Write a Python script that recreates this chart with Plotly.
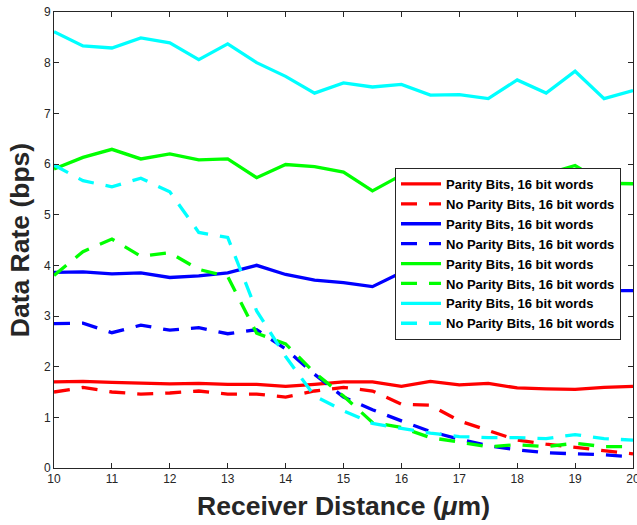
import plotly.graph_objects as go

distance = [10, 10.5, 11, 11.5, 12, 12.5, 13, 13.5, 14, 14.5, 15,
            15.5, 16, 16.5, 17, 17.5, 18, 18.5, 19, 19.5, 20]

red_parity = [1.70, 1.71, 1.69, 1.67, 1.66, 1.67, 1.65, 1.65, 1.61, 1.65, 1.70,
              1.70, 1.61, 1.71, 1.64, 1.67, 1.58, 1.56, 1.55, 1.59, 1.61]
red_noparity = [1.50, 1.59, 1.50, 1.46, 1.48, 1.52, 1.46, 1.46, 1.40, 1.52, 1.59,
                1.52, 1.26, 1.24, 0.93, 0.74, 0.55, 0.47, 0.41, 0.35, 0.28]
blue_parity = [3.86, 3.87, 3.83, 3.85, 3.76, 3.79, 3.85, 4.00, 3.82, 3.71, 3.66,
               3.58, 3.86, 3.72, 3.62, 3.58, 3.64, 3.55, 3.52, 3.50, 3.50]
blue_noparity = [2.85, 2.86, 2.67, 2.82, 2.72, 2.77, 2.65, 2.73, 2.35, 1.85, 1.40,
                 1.15, 0.93, 0.72, 0.57, 0.44, 0.36, 0.30, 0.28, 0.26, 0.22]
green_parity = [5.90, 6.13, 6.29, 6.10, 6.20, 6.08, 6.10, 5.73, 5.99, 5.95, 5.84,
                5.47, 5.78, 5.75, 5.80, 5.72, 5.85, 5.80, 5.97, 5.62, 5.61]
green_noparity = [3.80, 4.27, 4.52, 4.18, 4.25, 3.92, 3.78, 2.66, 2.45, 1.88, 1.42,
                  0.90, 0.80, 0.60, 0.51, 0.42, 0.46, 0.42, 0.49, 0.42, 0.42]
cyan_parity = [8.61, 8.33, 8.29, 8.49, 8.39, 8.06, 8.37, 8.00, 7.73, 7.40, 7.60,
               7.52, 7.57, 7.36, 7.37, 7.29, 7.66, 7.40, 7.83, 7.29, 7.45]
cyan_noparity = [5.98, 5.67, 5.55, 5.72, 5.45, 4.65, 4.55, 3.10, 2.20, 1.42, 1.13,
                 0.88, 0.78, 0.69, 0.62, 0.60, 0.60, 0.58, 0.66, 0.58, 0.55]

x_ticks = [10, 11, 12, 13, 14, 15, 16, 17, 18, 19, 20]
y_ticks = [0, 1, 2, 3, 4, 5, 6, 7, 8, 9]

label_parity = "Parity Bits, 16 bit words"
label_noparity = "No Parity Bits, 16 bit words"

series = [
    (red_parity, "#FF0000", "solid", label_parity),
    (red_noparity, "#FF0000", "dash", label_noparity),
    (blue_parity, "#0000FF", "solid", label_parity),
    (blue_noparity, "#0000FF", "dash", label_noparity),
    (green_parity, "#00FF00", "solid", label_parity),
    (green_noparity, "#00FF00", "dash", label_noparity),
    (cyan_parity, "#00FFFF", "solid", label_parity),
    (cyan_noparity, "#00FFFF", "dash", label_noparity),
]

fig = go.Figure()
for vals, color, style, name in series:
    fig.add_trace(go.Scatter(
        x=distance, y=vals, mode="lines", name=name,
        line=dict(color=color, width=3.3,
                  dash="16px,12px" if style == "dash" else "solid"),
    ))

axis_color = "#262626"
font_family = "Liberation Sans, Arial, sans-serif"
common = dict(
    showline=True, linecolor=axis_color, linewidth=1, mirror="ticks",
    ticks="inside", ticklen=5, tickcolor=axis_color, tickwidth=1,
    showgrid=False, zeroline=False, ticklabeloverflow="allow",
    tickfont=dict(family=font_family, size=12, color=axis_color),
)

fig.update_layout(
    width=637, height=525,
    margin=dict(l=54, r=4, t=12, b=57, autoexpand=False),
    paper_bgcolor="white", plot_bgcolor="white",
    showlegend=True,
    legend=dict(
        x=(395 - 54) / 579, y=(468 - 168) / 456, xanchor="left", yanchor="top",
        bgcolor="white", bordercolor=axis_color, borderwidth=1,
        font=dict(family=font_family, size=13, color="black", weight="bold"),
        itemwidth=40, tracegroupgap=0,
    ),
    xaxis=dict(range=[10, 20], tickvals=x_ticks, **common,
               title=dict(text="Receiver Distance (<i>μ</i>m)", standoff=11,
                          font=dict(family=font_family, size=26.5,
                                    color=axis_color, weight="bold"))),
    yaxis=dict(range=[0, 9], tickvals=y_ticks, **common,
               title=dict(text="Data Rate (bps)", standoff=6,
                          font=dict(family=font_family, size=26.5,
                                    color=axis_color, weight="bold"))),
)

fig.write_html("out.html")
